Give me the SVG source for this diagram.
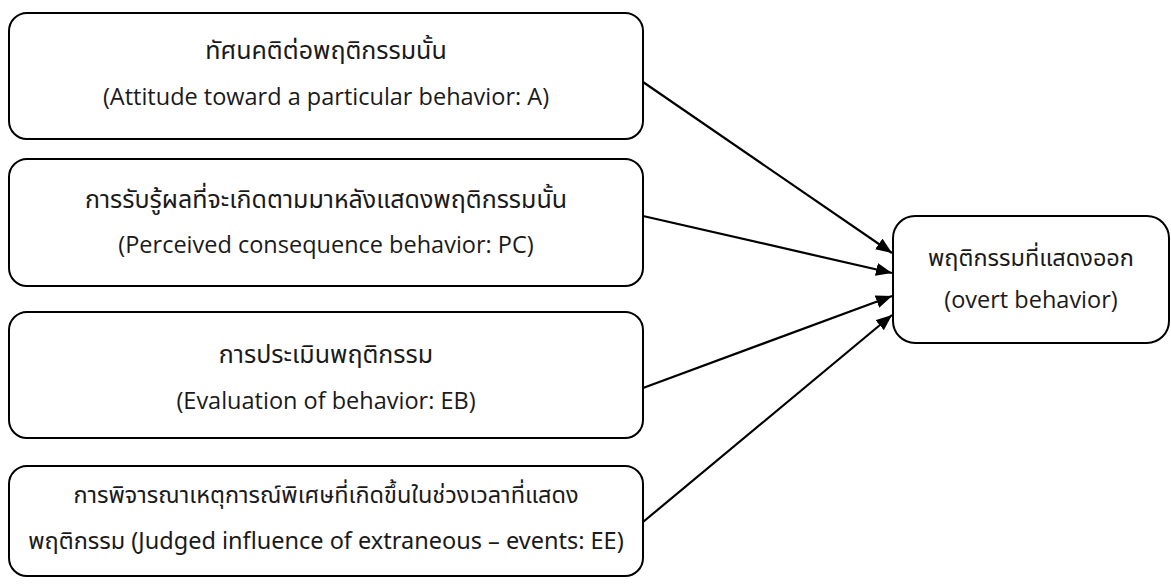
<svg xmlns="http://www.w3.org/2000/svg" width="1171" height="588" viewBox="0 0 1171 588">
<style>
.box{fill:#fff;stroke:#000;stroke-width:2}
.t{font-family:"Noto Sans Thai","Noto Sans Thai UI","Open Sans","Noto Sans",sans-serif;font-size:25px;fill:#1a1a1a;text-anchor:middle}
.m{font-family:"Noto Sans Thai","Noto Sans Thai UI","Open Sans","Noto Sans",sans-serif;font-size:23.5px;fill:#1a1a1a;text-anchor:middle}
.e{font-family:"Open Sans","Noto Sans",sans-serif;font-size:23.5px;fill:#1a1a1a;text-anchor:middle}
.c{stroke:#000;stroke-width:2.2;fill:none;marker-end:url(#ah)}
</style>
<defs>
<marker id="ah" markerUnits="userSpaceOnUse" markerWidth="17" markerHeight="13" refX="16" refY="6.5" orient="auto">
<path d="M0,0 L16,6.5 L0,13 z" fill="#000"/>
</marker>
</defs>
<rect width="1171" height="588" fill="#fff"/>
<g id="node-a">
<rect class="box" x="9" y="13" width="634" height="126" rx="18"/>
<text class="t" x="326" y="59">ทัศนคติต่อพฤติกรรมนั้น</text>
<text class="e" x="326" y="105">(Attitude toward a particular behavior: A)</text>
</g>
<g id="node-pc">
<rect class="box" x="9" y="159" width="634" height="127" rx="18"/>
<text class="t" x="326" y="208">การรับรู้ผลที่จะเกิดตามมาหลังแสดงพฤติกรรมนั้น</text>
<text class="e" x="326" y="253">(Perceived consequence behavior: PC)</text>
</g>
<g id="node-eb">
<rect class="box" x="9" y="312" width="634" height="126" rx="18"/>
<text class="t" x="326" y="363">การประเมินพฤติกรรม</text>
<text class="e" x="326" y="409">(Evaluation of behavior: EB)</text>
</g>
<g id="node-ee">
<rect class="box" x="9" y="466" width="634" height="110" rx="18"/>
<text class="m" x="326" y="503">การพิจารณาเหตุการณ์พิเศษที่เกิดขึ้นในช่วงเวลาที่แสดง</text>
<text class="m" x="326" y="549">พฤติกรรม (Judged influence of extraneous – events: EE)</text>
</g>
<g id="node-overt">
<rect class="box" x="893" y="216" width="276" height="127" rx="22"/>
<text class="m" x="1031" y="266">พฤติกรรมที่แสดงออก</text>
<text class="e" x="1031" y="308">(overt behavior)</text>
</g>
<g id="connectors">
<line class="c" x1="643" y1="82" x2="892" y2="253"/>
<line class="c" x1="643" y1="216" x2="892" y2="273"/>
<line class="c" x1="643" y1="388" x2="892" y2="296"/>
<line class="c" x1="643" y1="522" x2="892" y2="315"/>
</g>
</svg>
